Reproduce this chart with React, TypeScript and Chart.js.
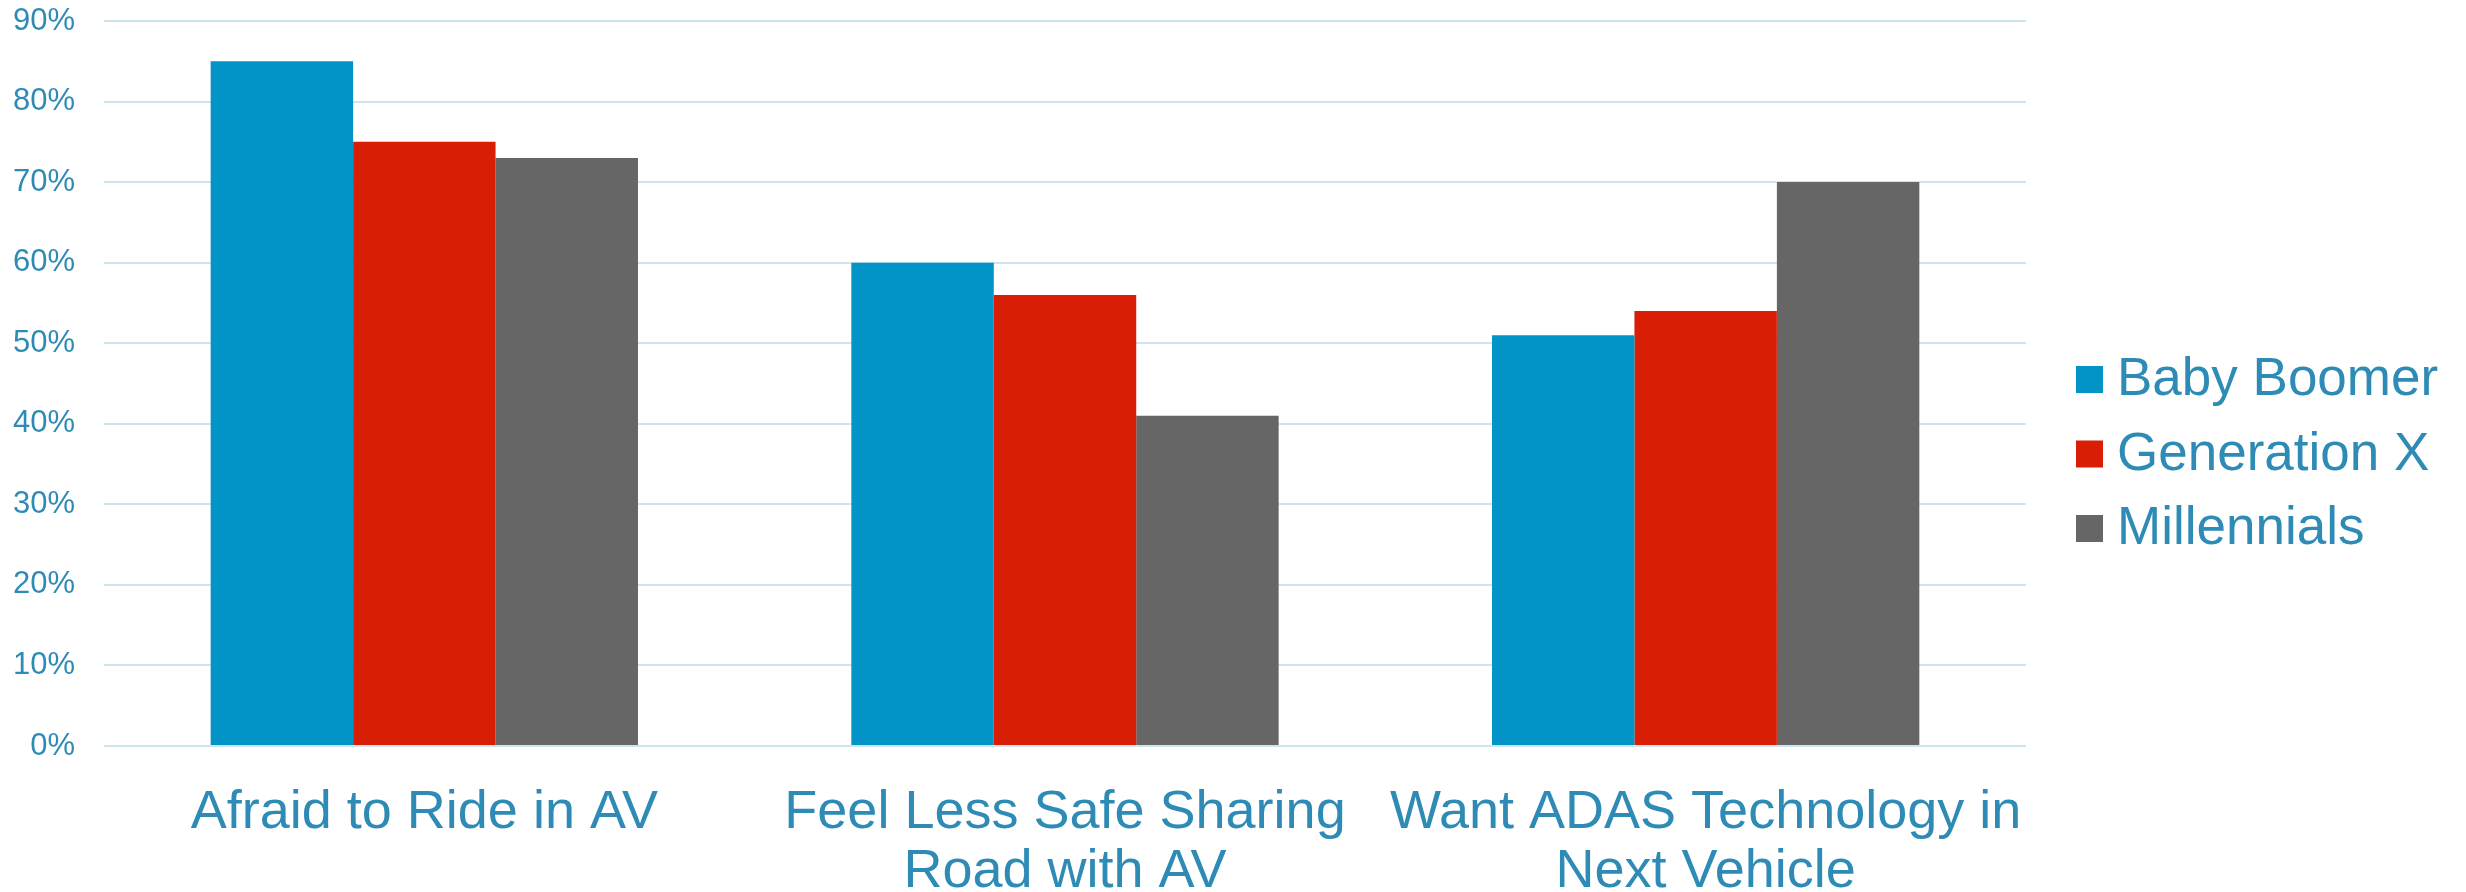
import React, { useEffect, useRef } from "react";
import { Chart, registerables } from "chart.js";

Chart.register(...registerables);

const categories: string[][] = [
  ["Afraid to Ride in AV"],
  ["Feel Less Safe Sharing", "Road with AV"],
  ["Want ADAS Technology in", "Next Vehicle"],
];
const seriesNames = ["Baby Boomer", "Generation X", "Millennials"];
const babyBoomer = [85, 60, 51];
const generationX = [75, 56, 54];
const millennials = [73, 41, 70];
const seriesColors = ["#0293C7", "#D81E05", "#666666"];
const yTickMax = 90;
const yTickStep = 10;

const TEXT = "#2E8BB6";
const FONT = "'Liberation Sans', Arial, sans-serif";

const legendPlugin = {
  id: "sideLegend",
  afterDraw(chart: any) {
    const ctx = chart.ctx;
    const ds = chart.data.datasets;
    const boxX = 2076;
    const box = 27;
    const textX = 2117;
    const rowGap = 74.5;
    const midY = 454;
    ctx.save();
    ctx.font = `53px ${FONT}`;
    ctx.textBaseline = "middle";
    ctx.textAlign = "left";
    ds.forEach((d: any, i: number) => {
      const cy = midY + (i - (ds.length - 1) / 2) * rowGap;
      ctx.fillStyle = d.backgroundColor;
      ctx.fillRect(boxX, cy - box / 2, box, box);
      ctx.fillStyle = TEXT;
      ctx.fillText(d.label, textX, cy + 1);
    });
    ctx.restore();
  },
};

export default function App() {
  const ref = useRef<HTMLCanvasElement | null>(null);
  useEffect(() => {
    if (!ref.current) return;
    const values = [babyBoomer, generationX, millennials];
    const chart = new Chart(ref.current, {
      type: "bar",
      data: {
        labels: categories,
        datasets: seriesNames.map((name, i) => ({
          label: name,
          data: values[i],
          backgroundColor: seriesColors[i],
          borderWidth: 0,
          categoryPercentage: 0.667,
          barPercentage: 1,
        })),
      },
      options: {
        responsive: false,
        animation: false,
        layout: { padding: { top: 21, right: 440, left: 0, bottom: 0 } },
        plugins: {
          legend: { display: false },
          tooltip: { enabled: false },
        },
        scales: {
          x: {
            grid: { display: false },
            border: { display: false },
            ticks: {
              color: TEXT,
              font: { family: FONT, size: 54, lineHeight: 1.1 },
              padding: 29,
              maxRotation: 0,
              autoSkip: false,
            },
            afterFit(scale: any) {
              scale.height = 146;
            },
          },
          y: {
            min: 0,
            max: yTickMax,
            border: { display: false },
            grid: {
              color: "#CCE5F0",
              lineWidth: 2,
              drawTicks: true,
              tickLength: 29,
              tickColor: "rgba(0,0,0,0)",
            },
            ticks: {
              stepSize: yTickStep,
              color: TEXT,
              font: { family: FONT, size: 31 },
              padding: 0,
              callback: (v: any) => `${v}%`,
            },
            afterFit(scale: any) {
              scale.width = 104;
            },
          },
        },
      },
      plugins: [legendPlugin],
    });
    return () => chart.destroy();
  }, []);
  return (
    <div style={{ position: "fixed", left: 0, top: 0, width: 2466, height: 892, background: "#fff" }}>
      <canvas ref={ref} width={2466} height={892} />
    </div>
  );
}
